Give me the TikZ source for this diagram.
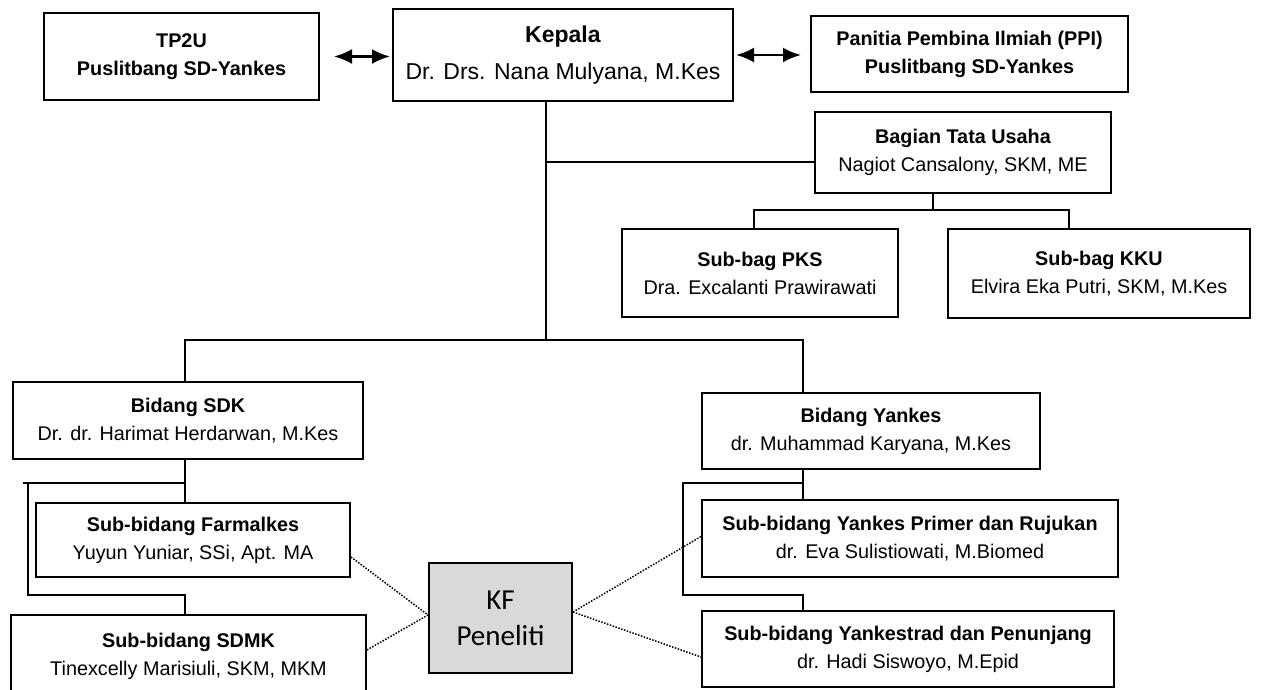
\documentclass[tikz,border=0pt]{standalone}
\usepackage{fontspec}
\setmainfont{Liberation Sans}
\newfontfamily\kffont{Carlito}
\usetikzlibrary{arrows.meta}
\definecolor{kfgray}{HTML}{D9D9D9}
\begin{document}
\begin{tikzpicture}[x=0.5pt,y=-0.5pt,
  box/.style={draw, line width=1pt, align=center, inner sep=0pt, font=\fontsize{9.9}{14}\selectfont},
  conn/.style={line width=0.9pt},
  dots/.style={line width=0.75pt, dash pattern=on 0.75pt off 0.75pt},
  dbl/.style={line width=1.3pt, {Latex[length=9pt,width=7.5pt]}-{Latex[length=9pt,width=7.5pt]}}]
\useasboundingbox (0,0) rectangle (1266,690);
\clip (0,0) rectangle (1266,690);

% boxes
\node[box, minimum width=137.5pt, minimum height=43.5pt] (tp2u) at (181.5,56.5) {\textbf{TP2U}\\\textbf{Puslitbang SD-Yankes}};
\node[box, minimum width=170pt, minimum height=46pt, font=\fontsize{11.5}{18.5}\selectfont] (kep) at (563,55) {\textbf{Kepala}\\Dr. Drs. Nana Mulyana, M.Kes};
\node[box, minimum width=158.5pt, minimum height=38pt] (ppi) at (969.5,54) {\textbf{Panitia Pembina Ilmiah (PPI)}\\\textbf{Puslitbang SD-Yankes}};
\node[box, minimum width=148pt, minimum height=40.5pt] (btu) at (963,152.5) {\textbf{Bagian Tata Usaha}\\Nagiot Cansalony, SKM, ME};
\node[box, minimum width=138pt, minimum height=44pt] (pks) at (760,273) {\textbf{Sub-bag PKS}\\Dra. Excalanti Prawirawati};
\node[box, minimum width=151pt, minimum height=44.5pt] (kku) at (1099,273.5) {\textbf{Sub-bag KKU}\\Elvira Eka Putri, SKM, M.Kes};
\node[box, minimum width=175pt, minimum height=38.5pt] (sdk) at (188,420.5) {\textbf{Bidang SDK}\\Dr. dr. Harimat Herdarwan, M.Kes};
\node[box, minimum width=169pt, minimum height=38pt] (yan) at (871,431) {\textbf{Bidang Yankes}\\dr. Muhammad Karyana, M.Kes};
\node[box, minimum width=157pt, minimum height=37pt] (farm) at (193,540) {\textbf{Sub-bidang Farmalkes}\\Yuyun Yuniar, SSi, Apt. MA};
\node[box, minimum width=177.5pt, minimum height=41pt] (sdmk) at (188.5,656) {\textbf{Sub-bidang SDMK}\\Tinexcelly Marisiuli, SKM, MKM};
\node[box, minimum width=208pt, minimum height=38.5pt] (pri) at (910,538.5) {\textbf{Sub-bidang Yankes Primer dan Rujukan}\\dr. Eva Sulistiowati, M.Biomed};
\node[box, minimum width=206pt, minimum height=38pt] (tra) at (908,649) {\textbf{Sub-bidang Yankestrad dan Penunjang}\\dr. Hadi Siswoyo, M.Epid};
\node[box, fill=kfgray, minimum width=71.5pt, minimum height=55pt, font=\kffont\fontsize{14.5}{18}\selectfont] (kf) at (500.5,618) {KF\\Peneliti};

% arrows between top boxes
\draw[dbl] ([xshift=7pt]tp2u.east) -- ([xshift=-1pt]tp2u.east -| kep.west);
\draw[dbl] ([xshift=1pt]kep.east) -- ([xshift=-4.5pt]kep.east -| ppi.west);

% trunk
\coordinate (t1) at (546,162);
\coordinate (t2) at (546,340);
\draw[conn] (kep.south -| t1) -- (t2);
\draw[conn] (t1) -- (t1 -| btu.west);

% Tata Usaha branch
\coordinate (u0) at (933,210);
\coordinate (u1) at (754,210);
\coordinate (u2) at (1069,210);
\draw[conn] (btu.south -| u0) -- (u0);
\draw[conn] (pks.north -| u1) -- (u1) -- (u2) -- (kku.north -| u2);

% Bidang level
\coordinate (v1) at (185,340);
\coordinate (v2) at (803,340);
\draw[conn] (sdk.north -| v1) -- (v1) -- (v2) -- (yan.north -| v2);

% SDK bracket
\coordinate (s0) at (23,483);
\coordinate (s1) at (185,483);
\coordinate (s2) at (28,483);
\coordinate (s3) at (28,595);
\coordinate (s4) at (185,595);
\draw[conn] (sdk.south -| s1) -- (farm.north -| s1);
\draw[conn] (s0) -- (s1);
\draw[conn] (s2) -- (s3) -- (s4) -- (sdmk.north -| s4);

% Yankes bracket
\coordinate (y1) at (803,483);
\coordinate (y2) at (683,483);
\coordinate (y3) at (683,595);
\coordinate (y4) at (803,595);
\draw[conn] (yan.south -| y1) -- (pri.north -| y1);
\draw[conn] (y1) -- (y2) -- (y3) -- (y4) -- (tra.north -| y4);

% dotted links to KF
\draw[dots] ([yshift=-8.5pt]farm.east) -- ([yshift=1.5pt]kf.west);
\draw[dots] ([yshift=3pt]sdmk.east) -- ([yshift=1.5pt]kf.west);
\draw[dots] ([yshift=3pt]kf.east) -- ([yshift=1pt]pri.west);
\draw[dots] ([yshift=3pt]kf.east) -- ([yshift=-4pt]tra.west);
\end{tikzpicture}
\end{document}
